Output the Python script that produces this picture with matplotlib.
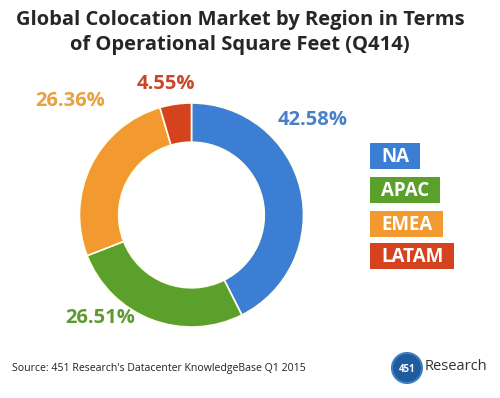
import matplotlib.pyplot as plt
from matplotlib.patches import Circle, Rectangle

regions = ["NA", "APAC", "EMEA", "LATAM"]
shares = [42.58, 26.51, 26.36, 4.55]
colors = ["#3C7ED4", "#5BA02B", "#F29A30", "#D5431E"]
label_colors = ["#4A80C6", "#5E9A2F", "#E9A03F", "#C9462A"]

plt.rcParams['font.family'] = ['Open Sans', 'DejaVu Sans']

fig = plt.figure(figsize=(5, 3.98), dpi=100)
fig.patch.set_facecolor("white")

# overlay in pixel coordinates for text and legend
bg = fig.add_axes([0, 0, 1, 1])
bg.set_xlim(0, 500)
bg.set_ylim(398, 0)
bg.axis("off")

# donut
ax = fig.add_axes([79.5 / 500, 71 / 398, 224 / 500, 224 / 398])
wedges, _ = ax.pie(shares, colors=colors, startangle=90, counterclock=False,
                   radius=1, wedgeprops=dict(width=0.35, edgecolor="#FFFFEE", linewidth=1.2))
ax.set_xlim(-1, 1)
ax.set_ylim(-1, 1)
ax.set_aspect("equal")
ax.axis("off")

# title
bg.text(240, 20, "Global Colocation Market by Region in Terms", ha="center", va="center",
        fontsize=14.5, fontweight="bold", color="#262626")
bg.text(240, 45, "of Operational Square Feet (Q414)", ha="center", va="center",
        fontsize=14.5, fontweight="bold", color="#262626")

# percentage labels
label_pos = [(313, 120), (100, 318), (70, 101), (166, 84)]
for (x, y), v, c in zip(label_pos, shares, label_colors):
    bg.text(x, y, f"{v:.2f}%", ha="center", va="center", fontsize=14.5,
            fontweight="bold", color=c)

# legend boxes - sized around the text
fig.canvas.draw()
renderer = fig.canvas.get_renderer()
box_y = [156, 190, 224, 256]
for name, y, c in zip(regions, box_y, colors):
    t = bg.text(381, y + 1, name, ha="left", va="center", fontsize=13.5, fontweight="bold",
                color="white", zorder=3)
    w = t.get_window_extent(renderer).width
    bg.add_patch(Rectangle((370, y - 13), w + 22, 26, facecolor=c, edgecolor="none", zorder=2))

# source
bg.text(12, 368, "Source: 451 Research's Datacenter KnowledgeBase Q1 2015", ha="left",
        va="center", fontsize=7.6, color="#222222")

# logo
bg.add_patch(Circle((407, 368), 15, facecolor="#1E5B9F", edgecolor="#3F7FC0", linewidth=1.5))
bg.text(407, 369, "451", ha="center", va="center", fontsize=7, fontweight="bold", color="white")
bg.text(425, 366, "Research", ha="left", va="center", fontsize=10.5, color="#333333")

fig.savefig("out.png", dpi=100, facecolor="white")
